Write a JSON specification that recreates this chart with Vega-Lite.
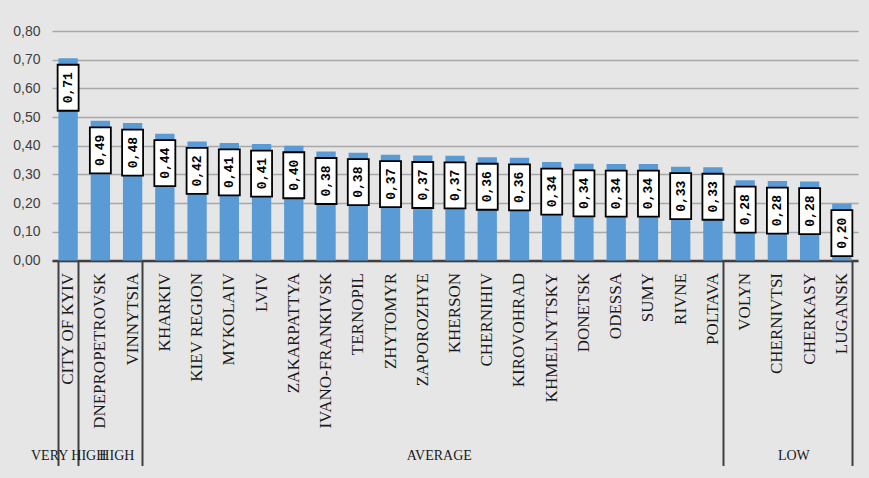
{
  "$schema": "https://vega.github.io/schema/vega-lite/v6.json",
  "width": 806,
  "height": 229.5,
  "autosize": {"type": "none"},
  "padding": {"left": 52, "top": 31, "right": 11, "bottom": 217},
  "background": "#e6e6e6",
  "config": {"view": {"stroke": null}},
  "data": {
    "values": [
      {"region": "CITY OF KYIV", "value": 0.705, "label": "0,71"},
      {"region": "DNEPROPETROVSK", "value": 0.487, "label": "0,49"},
      {"region": "VINNYTSIA", "value": 0.479, "label": "0,48"},
      {"region": "KHARKIV", "value": 0.442, "label": "0,44"},
      {"region": "KIEV REGION", "value": 0.415, "label": "0,42"},
      {"region": "MYKOLAIV", "value": 0.41, "label": "0,41"},
      {"region": "LVIV", "value": 0.406, "label": "0,41"},
      {"region": "ZAKARPATTYA", "value": 0.4, "label": "0,40"},
      {"region": "IVANO-FRANKIVSK", "value": 0.38, "label": "0,38"},
      {"region": "TERNOPIL", "value": 0.376, "label": "0,38"},
      {"region": "ZHYTOMYR", "value": 0.369, "label": "0,37"},
      {"region": "ZAPOROZHYE", "value": 0.366, "label": "0,37"},
      {"region": "KHERSON", "value": 0.365, "label": "0,37"},
      {"region": "CHERNIHIV", "value": 0.36, "label": "0,36"},
      {"region": "KIROVOHRAD", "value": 0.358, "label": "0,36"},
      {"region": "KHMELNYTSKY", "value": 0.343, "label": "0,34"},
      {"region": "DONETSK", "value": 0.337, "label": "0,34"},
      {"region": "ODESSA", "value": 0.336, "label": "0,34"},
      {"region": "SUMY", "value": 0.336, "label": "0,34"},
      {"region": "RIVNE", "value": 0.327, "label": "0,33"},
      {"region": "POLTAVA", "value": 0.325, "label": "0,33"},
      {"region": "VOLYN", "value": 0.28, "label": "0,28"},
      {"region": "CHERNIVTSI", "value": 0.277, "label": "0,28"},
      {"region": "CHERKASY", "value": 0.275, "label": "0,28"},
      {"region": "LUGANSK", "value": 0.198, "label": "0,20"}
    ]
  },
  "layer": [
    {
      "mark": {"type": "bar", "color": "#5b9bd5"},
      "encoding": {
        "x": {
          "field": "region", "type": "nominal", "sort": null,
          "scale": {"paddingInner": 0.4, "paddingOuter": 0.2},
          "axis": {
            "orient": "bottom", "title": null, "ticks": false,
            "labelAngle": 270, "labelFont": "Liberation Serif", "labelFontSize": 17,
            "labelColor": "#1a1a1a", "labelPadding": 12, "labelOverlap": false,
            "labelLimit": 300,
            "domainColor": "#404040", "domainWidth": 2.5
          }
        },
        "y": {
          "field": "value", "type": "quantitative",
          "scale": {"domain": [0, 0.8]},
          "axis": {
            "title": null, "values": [0, 0.1, 0.2, 0.3, 0.4, 0.5, 0.6, 0.7, 0.8],
            "labelOverlap": false,
            "labelExpr": "replace(format(datum.value, '.2f'), '.', ',')",
            "labelFont": "Liberation Sans Narrow, Liberation Sans", "labelFontSize": 14,
            "labelColor": "#404040", "labelPadding": 12,
            "domain": false, "ticks": false,
            "gridColor": "#a8a8a8", "gridWidth": 1.5
          }
        }
      }
    },
    {
      "mark": {"type": "tick", "size": 21, "thickness": 46, "yOffset": 29.5, "color": "white", "fill": "white", "stroke": "black", "strokeWidth": 1.8, "opacity": 1},
      "encoding": {
        "x": {"field": "region", "type": "nominal", "sort": null, "axis": null},
        "y": {
          "field": "value", "type": "quantitative",
          "axis": {
            "title": null, "values": [0, 0.1, 0.2, 0.3, 0.4, 0.5, 0.6, 0.7, 0.8],
            "labelOverlap": false,
            "labelExpr": "replace(format(datum.value, '.2f'), '.', ',')",
            "labelFont": "Liberation Sans Narrow, Liberation Sans", "labelFontSize": 14,
            "labelColor": "#404040", "labelPadding": 12,
            "domain": false, "ticks": false,
            "gridColor": "#a8a8a8", "gridWidth": 1.5
          }
        }
      }
    },
    {
      "mark": {"type": "text", "angle": 270, "yOffset": 29.5, "font": "Liberation Mono", "fontWeight": "bold", "fontSize": 13, "color": "black", "align": "center", "baseline": "middle"},
      "encoding": {
        "x": {
          "field": "region", "type": "nominal", "sort": null,
          "axis": {
            "orient": "bottom", "title": null, "domain": false,
            "tickBand": "extent", "tickSize": 205, "tickColor": "#404040", "tickWidth": 2,
            "tickOpacity": {"condition": {"test": "datum.extra || indexof(['CITY OF KYIV','VINNYTSIA','POLTAVA','LUGANSK'], datum.value) >= 0", "value": 1}, "value": 0},
            "labelAngle": 0, "labelBaseline": "middle", "labelAlign": "center",
            "labelPadding": -10.5, "labelOverlap": false, "labelFlush": false,
            "labelFont": "Liberation Serif", "labelFontSize": 14, "labelColor": "#1a1a1a",
            "labelOffset": {"condition": {"test": "datum.value === 'CITY OF KYIV'", "value": 0}, "value": 16},
            "labelExpr": "datum.extra ? '' : datum.value == 'CITY OF KYIV' ? 'VERY HIGH' : datum.value == 'DNEPROPETROVSK' ? 'HIGH' : datum.value == 'ZAPOROZHYE' ? 'AVERAGE' : datum.value == 'CHERNIVTSI' ? 'LOW' : ''"
          }
        },
        "y": {
          "field": "value", "type": "quantitative",
          "axis": {
            "title": null, "values": [0, 0.1, 0.2, 0.3, 0.4, 0.5, 0.6, 0.7, 0.8],
            "labelOverlap": false,
            "labelExpr": "replace(format(datum.value, '.2f'), '.', ',')",
            "labelFont": "Liberation Sans Narrow, Liberation Sans", "labelFontSize": 14,
            "labelColor": "#404040", "labelPadding": 12,
            "domain": false, "ticks": false,
            "gridColor": "#a8a8a8", "gridWidth": 1.5
          }
        },
        "text": {"field": "label", "type": "nominal"}
      }
    }
  ],
  "resolve": {"axis": {"x": "independent"}}
}
